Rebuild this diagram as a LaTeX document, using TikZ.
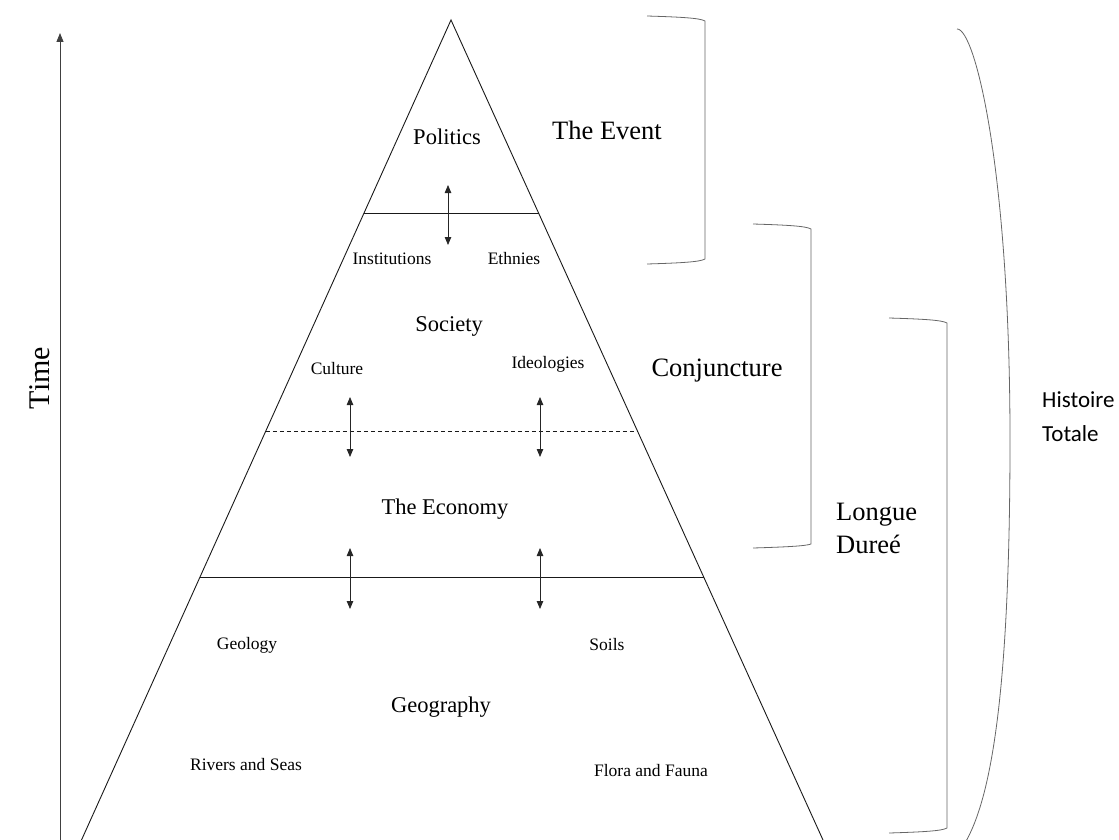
\documentclass[tikz,border=0pt]{standalone}
\usepackage{fontspec}
\setmainfont{Liberation Serif}
\newfontfamily\histfont{Carlito}
\usetikzlibrary{arrows.meta,calc}

\begin{document}
\begin{tikzpicture}[x=1pt,y=-1pt,
  edge/.style={line width=0.9pt, draw=black!90},
  brace/.style={line width=0.8pt, draw=black!60},
  twoway/.style={line width=0.8pt, draw=black!85,
    {Triangle[length=8pt,width=6.5pt]}-{Triangle[length=8pt,width=6.5pt]}},
  big/.style={inner sep=0pt, font=\fontsize{22.5}{26}\selectfont},
  small/.style={inner sep=0pt, font=\fontsize{17.5}{20}\selectfont},
  side/.style={inner sep=0pt, align=left, font=\fontsize{26.5}{33}\selectfont}]
\useasboundingbox (0,0) rectangle (1119,840);

% time axis
\coordinate (t0) at (60,840);
\coordinate (t1) at (60,33);
\draw[line width=0.8pt, draw=black!75, -{Triangle[length=9pt,width=7pt]}] (t0) -- (t1);
\node[inner sep=0pt, rotate=90, font=\fontsize{30}{34}\selectfont] (time) at (40,378) {Time};

% pyramid outline
\coordinate (apex) at (451,20);
\coordinate (footL) at (81.5,840);
\coordinate (footR) at (823,840);
\draw[edge] (footL) -- (apex) -- (footR);

% tiers
\coordinate (aL) at ($(apex)!0.2354!(footL)$);
\coordinate (aR) at ($(apex)!0.2354!(footR)$);
\coordinate (bL) at ($(apex)!0.5012!(footL)$);
\coordinate (bR) at ($(apex)!0.5012!(footR)$);
\coordinate (cL) at ($(apex)!0.6793!(footL)$);
\coordinate (cR) at ($(apex)!0.6793!(footR)$);
\draw[edge] (aL) -- (aR);
\draw[edge, dash pattern=on 4pt off 3pt] (bL) -- (bR);
\draw[edge] (cL) -- (cR);

% two-way influences between tiers
\coordinate (p1) at (448,185); \coordinate (p2) at (448,245);
\coordinate (q1) at (350,397); \coordinate (q2) at (350,457);
\coordinate (r1) at (540,397); \coordinate (r2) at (540,457);
\coordinate (s1) at (350,548); \coordinate (s2) at (350,609);
\coordinate (u1) at (540,548); \coordinate (u2) at (540,609);
\draw[twoway] (p1) -- (p2);
\draw[twoway] (q1) -- (q2);
\draw[twoway] (r1) -- (r2);
\draw[twoway] (s1) -- (s2);
\draw[twoway] (u1) -- (u2);

% tier labels
\node[big] (politics) at (447,137) {Politics};
\node[small] (inst) at (392,259) {Institutions};
\node[small] (ethn) at (514,259) {Ethnies};
\node[big] (society) at (449,326) {Society};
\node[small] (culture) at (337,369) {Culture};
\node[small] (ideol) at (548,364) {Ideologies};
\node[big] (economy) at (445,509) {The Economy};
\node[small] (geol) at (247,645) {Geology};
\node[small] (soils) at (607,645) {Soils};
\node[big] (geog) at (441,707) {Geography};
\node[small] (rivers) at (246,765) {Rivers and Seas};
\node[small] (flora) at (651,771) {Flora and Fauna};

% time-scale brackets
\draw[brace] (647,16) .. controls (680,17) and (700,18) .. (705,21)
  -- (705,259) .. controls (700,262) and (680,263) .. (647,264);
\node[side] (event) at (607,130) {The Event};

\draw[brace] (753,224) .. controls (786,225) and (806,226) .. (811,229)
  -- (811,544) .. controls (806,546) and (786,547) .. (753,548);
\node[side] (conj) at (717,371) {Conjuncture};

\draw[brace] (889,318) .. controls (922,319) and (942,320) .. (947,323)
  -- (947,828) .. controls (942,831) and (922,832) .. (889,833);
\node[side, anchor=west] (longue) at (836,528) {Longue\\Dureé};

\draw[brace] (957,29) .. controls (975,28) and (1010,170) .. (1010,440)
  .. controls (1010,700) and (990,800) .. (965,843);
\node[inner sep=0pt, anchor=west, align=left,
  font={\fontsize{23}{34}\selectfont\histfont}] (hist) at (1042,417) {Histoire\\Totale};
\end{tikzpicture}
\end{document}
